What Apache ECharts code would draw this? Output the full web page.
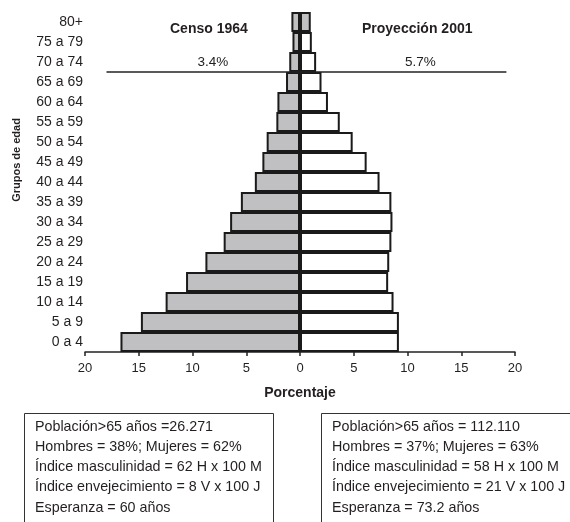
<!DOCTYPE html>
<html>
<head>
<meta charset="utf-8">
<script src="https://cdn.jsdelivr.net/npm/echarts@6/dist/echarts.min.js"></script>
<style>
html,body{margin:0;padding:0;background:#fff;}
#c{width:570px;height:522px;}
</style>
</head>
<body>
<div id="c"></div>
<script>
var categories = ['0 a 4','5 a 9','10 a 14','15 a 19','20 a 24','25 a 29','30 a 34','35 a 39','40 a 44','45 a 49','50 a 54','55 a 59','60 a 64','65 a 69','70 a 74','75 a 79','80+'];
var censo1964 = [16.7,14.8,12.5,10.6,8.8,7.1,6.5,5.5,4.2,3.5,3.1,2.2,2.1,1.3,1.0,0.7,0.8];
var proyeccion2001 = [9.2,9.2,8.7,8.2,8.3,8.5,8.6,8.5,7.4,6.2,4.9,3.7,2.6,2.0,1.5,1.1,1.0];
var xTicks = [-20,-15,-10,-5,0,5,10,15,20];
var seriesTitles = ['Censo 1964','Proyección 2001'];
var over65Line = [[-18,14],[19.2,14]];
var over65Labels = ['3.4%','5.7%'];
var over65LabelPos = [[-8.1,14.5],[11.2,14.5]];
var boxLeft = ['Población>65 años =26.271','Hombres = 38%; Mujeres = 62%','Índice masculinidad = 62 H x 100 M','Índice envejecimiento = 8 V x 100 J','Esperanza = 60 años'];
var boxRight = ['Población>65 años = 112.110','Hombres = 37%; Mujeres = 63%','Índice masculinidad = 58 H x 100 M','Índice envejecimiento = 21 V x 100 J','Esperanza = 73.2 años'];

var FONT = '"Liberation Sans", Arial, sans-serif';
var TXT = '#231f20';
var GRAY = '#c0c0c3';
var chart = echarts.init(document.getElementById('c'));

var leftData = censo1964.map(function(v){ return -v; });
var rightData = proyeccion2001.map(function(v, i){
  return i === categories.length - 1 ? {value: v, itemStyle: {color: GRAY}} : v;
});

var graphics = [];
graphics.push({type:'text', left: 210 - 40, top: 22, style:{text: seriesTitles[0], font: 'bold 14px ' + FONT, fill: TXT}});
graphics.push({type:'text', left: 419 - 57, top: 22, style:{text: seriesTitles[1], font: 'bold 14px ' + FONT, fill: TXT}});
graphics.push({type:'text', x: 300, y: 393, style:{text: 'Porcentaje', font: 'bold 14px ' + FONT, fill: TXT, align: 'center', verticalAlign: 'middle'}});
graphics.push({type:'text', x: 17, y: 160, rotation: Math.PI/2, style:{text: 'Grupos de edad', font: 'bold 11px ' + FONT, fill: TXT, align: 'center', verticalAlign: 'middle'}});
graphics.push({type:'rect', shape:{x: 24.5, y: 413.5, width: 249, height: 130}, style:{fill: 'none', stroke: '#333', lineWidth: 1}});
graphics.push({type:'rect', shape:{x: 321.5, y: 413.5, width: 270, height: 130}, style:{fill: 'none', stroke: '#333', lineWidth: 1}});
var lineYs = [427, 447, 467, 487, 508];
boxLeft.forEach(function(t, i){
  graphics.push({type:'text', x: 35, y: lineYs[i], style:{text: t, font: '14.3px ' + FONT, fill: TXT, verticalAlign: 'middle'}});
});
boxRight.forEach(function(t, i){
  graphics.push({type:'text', x: 332, y: lineYs[i], style:{text: t, font: '14.3px ' + FONT, fill: TXT, verticalAlign: 'middle'}});
});

chart.setOption({
  animation: false,
  backgroundColor: '#fff',
  grid: {left: 85, right: 55, top: 12, bottom: 170, containLabel: false},
  xAxis: {
    type: 'value', min: xTicks[0], max: xTicks[xTicks.length-1], interval: 5,
    axisLine: {show: true, lineStyle: {color: '#222', width: 1.5}},
    axisTick: {show: true, length: 4, lineStyle: {color: '#222', width: 1.5}},
    splitLine: {show: false},
    axisLabel: {formatter: function(v){ return Math.abs(v); }, fontSize: 13, fontFamily: FONT, color: TXT, margin: 10}
  },
  yAxis: [{
    type: 'category', data: categories,
    axisLine: {show: false, onZero: false},
    axisTick: {show: false},
    axisLabel: {fontSize: 14, fontFamily: FONT, color: TXT, margin: 2}
  }, {
    type: 'value', min: 0, max: categories.length, show: false, position: 'right'
  }],
  series: [{
    name: seriesTitles[0], type: 'bar', stack: 'pop', data: leftData,
    barWidth: '100%', barCategoryGap: 0,
    itemStyle: {color: GRAY, borderColor: '#1a1a1a', borderWidth: 2}
  }, {
    name: seriesTitles[1], type: 'bar', stack: 'pop', data: rightData,
    barWidth: '100%', barCategoryGap: 0,
    itemStyle: {color: '#fff', borderColor: '#1a1a1a', borderWidth: 2}
  }, {
    type: 'line', yAxisIndex: 1, data: over65Line, symbol: 'none', silent: true,
    lineStyle: {color: '#222', width: 1.5}, z: 5
  }, {
    type: 'scatter', yAxisIndex: 1, data: over65LabelPos, symbolSize: 0, silent: true,
    itemStyle: {opacity: 1, color: '#000'},
    label: {show: true, position: 'inside', formatter: function(p){ return over65Labels[p.dataIndex]; }, fontSize: 13.5, fontFamily: FONT, color: '#222', opacity: 1, textBorderWidth: 0}
  }],
  graphic: graphics
});
</script>
</body>
</html>
